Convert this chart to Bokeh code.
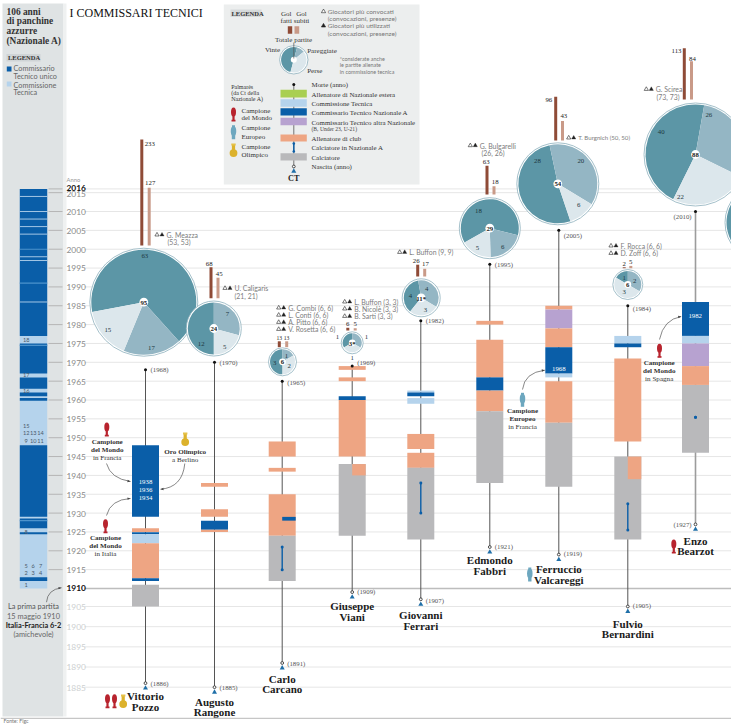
import numpy as np
from bokeh.plotting import figure
from bokeh.core.properties import value
from bokeh.embed import file_html
from bokeh.resources import INLINE

# ---------- data ----------
names = [["Vittorio", "Pozzo"], ["Augusto", "Rangone"], ["Carlo", "Carcano"], ["Giuseppe", "Viani"],
         ["Giovanni", "Ferrari"], ["Edmondo", "Fabbri"], ["Ferruccio", "Valcareggi"], ["Fulvio", "Bernardini"],
         ["Enzo", "Bearzot"]]
birth = [1886, 1885, 1891, 1909, 1907, 1921, 1919, 1905, 1927]
death_pos = [1968, 1970, 1965, 1969, 1981, 1996, 2005, 1985, 2010]
death_lab = [1968, 1970, 1965, 1969, 1982, 1995, 2005, 1984, 2010]
spells = [
    [(1929, 1948, "ct"), (1925, 1926, "club"), (1924.4, 1924.9, "ct"), (1922, 1924.4, "comm"), (1912.7, 1922, "club"),
     (1912, 1912.7, "ct"), (1905, 1911, "player")],
    [(1937, 1938, "club"), (1929, 1931, "club"), (1925.6, 1928, "ct"), (1925, 1925.6, "club")],
    [(1945, 1949, "club"), (1941, 1942, "club"), (1924, 1935, "club"), (1912, 1924, "player")],
    [(1968, 1969, "club"), (1965, 1966, "club"), (1960, 1961, "ct"), (1945, 1960, "club"), (1924, 1943, "player")],
    [(1962, 1962.5, "comm"), (1961, 1962, "ct"), (1959, 1960.5, "comm"), (1947, 1951, "club"), (1942, 1946, "club"),
     (1923, 1942, "player")],
    [(1980, 1981, "club"), (1966, 1976, "club"), (1962.5, 1966, "ct"), (1957, 1962.5, "club"), (1938, 1957, "player")],
    [(1984, 1985, "club"), (1979, 1984, "altra"), (1974, 1979, "club"), (1967, 1974, "ct"), (1966, 1967, "comm"),
     (1954, 1965, "club"), (1937, 1954, "player")],
    [(1975, 1977, "comm"), (1974, 1975, "ct"), (1949, 1971, "club"), (1923, 1945, "player")],
    [(1977, 1986, "ct"), (1975, 1977, "comm"), (1969, 1975, "altra"), (1964, 1969, "club"), (1946, 1964, "player")],
]
half_spells = [(2, 1928, 1929, "ct"), (3, 1940, 1943, "club"), (7, 1939, 1945, "club")]
caps = [(2, 1915, 1921), (4, 1930, 1938), (7, 1925.5, 1932.5), (8, 1955.4, 1955.4)]
gol_fatti = [233, 68, 13, 6, 26, 63, 96, 2, 113]
gol_subiti = [127, 45, 13, 5, 17, 18, 43, 5, 84]
vinte = [63, 12, 3, 1, 4, 18, 28, 1, 40]
pareggiate = [17, 7, 1, 1, 4, 6, 20, 2, 26]
perse = [15, 5, 2, 1, 3, 5, 6, 3, 22]
totali = ["95", "24", "6", "3*", "11*", "29", "54", "6", "88"]
column_blue = [(1977, 2016.6), (1967, 1975), (1963, 1966), (1961, 1962), (1959.8, 1960.5), (1929, 1948), (1925.9, 1928.6),
               (1924.4, 1924.9), (1912, 1913)]
column_changes = [2014, 2010, 2008, 2006, 2004, 1998, 1997, 1986]
column_changes_mid = [2000, 1991, 1974.5, 1928]
years_tick = list(range(1885, 2016, 5))

COL = {"ct": "#0a5ea8", "comm": "#b5d3ec", "altra": "#b7a2d0", "club": "#eea583", "player": "#b9b9bb", "estera": "#a9cf52"}
DARK, MID, LIGHT = "#5c96a6", "#94b6c4", "#dce7ec"
SERIF, SANS = "Liberation Serif", "Lato"
RED, TEAL, YEL = "#b8242e", "#6da7bf", "#dcb22c"

# ---------- positions of the page ----------
cx = [145, 214, 281.7, 351.7, 420.3, 489.3, 558.3, 627.3, 695]
bx_a = [141.3, 210.5, 278.8, 347.3, 417.2, 486.5, 555.2, 623.7, 683.8]
bx_b = [148.7, 217.5, 286.2, 354.7, 424.2, 493.5, 562, 630.3, 691]
b_bot = [245, 297.7, 346.7, 330, 276, 194, 140, 267.7, 99]
pie_x = [143.3, 213.3, 282, 351.7, 420.7, 489.3, 557.3, 627.3, 695]
pie_y = [301.7, 328, 361.3, 342.3, 297.3, 227.7, 183.3, 284, 154]
pie_r = [52.5, 26, 12.5, 9.5, 17.5, 29, 39.5, 13.5, 50]
pie_end = [-48, 90, 90, 90, 100, -14, 102, 90, 80]

p = figure(width=731, height=724, x_range=(0, 731), y_range=(0, 724), output_backend="svg",
           toolbar_location=None, min_border=0, outline_line_color=None, background_fill_color="white")
p.axis.visible = False
p.grid.visible = False


def py(v):
    return 724 - v


def Y(year):
    return py(float(np.interp(year, [1885, 1905, 1910, 2016], [686.7, 606, 588, 188.4])))


def T(x, y, s, size=7, font=SANS, style="normal", color="#444444", align="left"):
    p.text([x], [py(y)], text=[s], text_font=value(font), text_font_size=f"{size}px", text_font_style=style,
           text_color=color, text_align=align, text_baseline="middle")


def R(x0, x1, y0, y1, color):
    p.quad(left=[x0], right=[x1], bottom=[min(y0, y1)], top=[max(y0, y1)], fill_color=color, line_color=None)


def RP(x0, x1, y0, y1, color):
    R(x0, x1, py(y0), py(y1), color)


def cup(x, y, kind, k=1.0):
    col = {"w": RED, "e": TEAL, "o": YEL}[kind]
    yy = py(y)
    if kind == "w":
        p.ellipse([x], [yy + 2.5 * k], width=5 * k, height=9 * k, fill_color=col, line_color=None)
        R(x - 1.1 * k, x + 1.1 * k, yy - 6 * k, yy + 1 * k, col)
        R(x - 2 * k, x + 2 * k, yy - 7 * k, yy - 5.3 * k, col)
    elif kind == "e":
        p.ellipse([x], [yy + 1 * k], width=5.5 * k, height=10 * k, fill_color=col, line_color=None)
        R(x - 1.5 * k, x + 1.5 * k, yy + 5 * k, yy + 7 * k, col)
        R(x - 1.7 * k, x + 1.7 * k, yy - 7 * k, yy - 3 * k, col)
    else:
        p.circle([x], [yy - 2.6 * k], radius=3.9 * k, fill_color=col, line_color=None)
        R(x - 1.6 * k, x + 1.6 * k, yy - 1 * k, yy + 6 * k, col)
        R(x - 2.2 * k, x + 2.2 * k, yy + 5 * k, yy + 7 * k, "#e6c24a")


def curve(x0, y0, x1, y1, cxp, cyp):
    p.quadratic([x0], [py(y0)], [x1], [py(y1)], [cxp], [py(cyp)], line_color="#555555", line_width=0.7)
    d = np.array([x1 - cxp, py(y1) - py(cyp)], dtype=float)
    d /= np.hypot(*d)
    n = np.array([-d[1], d[0]])
    tip = np.array([x1, py(y1)])
    a = tip - d * 3 + n * 1.2
    b = tip - d * 3 - n * 1.2
    p.patch([tip[0], a[0], b[0]], [tip[1], a[1], b[1]], fill_color="#444444", line_color=None)


def pie(x, y, r, vals, end_deg, ring=True):
    a = np.radians(end_deg)
    tot = sum(vals)
    if ring:
        p.circle([x], [py(y)], radius=r + 1.5, fill_color="white", line_color="#8db0bd", line_width=0.8)
    a0 = a
    a1 = a + 2 * np.pi * vals[0] / tot
    p.wedge([x], [py(y)], radius=r, start_angle=a0, end_angle=a1, fill_color=DARK, line_color=None)
    s = a
    for v, c in zip(vals[1:], [MID, LIGHT]):
        e = s - 2 * np.pi * v / tot
        p.wedge([x], [py(y)], radius=r, start_angle=e, end_angle=s, fill_color=c, line_color=None)
        s = e


def tris(x, y):
    p.scatter([x], [py(y)], marker="triangle", size=4.2, fill_color="white", line_color="#222222", line_width=0.6)
    p.scatter([x + 5], [py(y)], marker="triangle", size=4.2, fill_color="#222222", line_color="#222222", line_width=0.3)


# ---------- grid ----------
xs0, xs1, ys = [], [], []
for yr in years_tick:
    if yr != 1910:
        xs0.append(84); xs1.append(731); ys.append(Y(yr))
xs0.append(84); xs1.append(731); ys.append(Y(2016))
p.segment(xs0, ys, xs1, ys, line_color="#e6e6e6", line_width=1)

# ---------- left panel ----------
RP(2, 63, 3, 716, "#dfe3e4")
RP(63, 66, 3, 716, "#eff1f1")
p.segment([84], [Y(1910)], [731], [Y(1910)], line_color="#bdbdbd", line_width=1.7)
for i, s in enumerate(["106 anni", "di panchine", "azzurre", "(Nazionale A)"]):
    T(6, 11 + i * 9.7, s, 9.4, SERIF, "bold", "#333333")
RP(6, 40, 53.5, 61, "#cfd4d6")
T(7.5, 57.3, "LEGENDA", 6.5, SERIF, "bold", "#333333")
RP(6.3, 11, 66, 71, COL["ct"])
RP(6.3, 11, 81, 86, COL["comm"])
T(13, 68, "Commissario", 7.3, color="#666666")
T(13, 75.5, "Tecnico unico", 7.3, color="#666666")
T(13, 84.5, "Commissione", 7.3, color="#666666")
T(13, 91.5, "Tecnica", 7.3, color="#666666")

# the national-team column
R(19.3, 46.7, Y(1910), Y(2016.6), COL["comm"])
for a, b in column_blue:
    R(19.3, 46.7, Y(a), Y(b), COL["ct"])
R(19.3, 46.7, Y(1925), Y(1925.9), COL["comm"])
for c in column_changes:
    p.segment([19.3], [Y(c)], [46.7], [Y(c)], line_color=COL["comm"], line_width=0.9)
for c in column_changes_mid:
    p.segment([19.3], [Y(c)], [46.7], [Y(c)], line_color="#4d93cc", line_width=1.1)
for s, x, y in [("18", 25.7, 339.3), ("17", 25.7, 374), ("16", 25.7, 390.7), ("15", 25.7, 425), ("12", 25.7, 432.7),
                ("13", 32.7, 432.7), ("14", 40, 432.7), ("9", 25.7, 440), ("10", 32.7, 440), ("11", 40, 440),
                ("8", 25.7, 531), ("5", 25.7, 565), ("6", 32.7, 565), ("7", 40, 565), ("2", 25.7, 572.7),
                ("3", 32.7, 572.7), ("4", 40, 572.7), ("1", 25.7, 584)]:
    T(x, y, s, 5.6, color="#4a5a6a", align="center")

# ticks + year labels
for yr in years_tick:
    if yr >= 1915:
        p.segment([48], [Y(yr)], [62], [Y(yr)], line_color="#b5b5b5", line_width=1)
    col = "#8a8a8a" if yr > 1910 else "#cdd0d1"
    if yr == 1910:
        continue
    T(66, py(Y(yr)) + (1.5 if yr == 2015 else 0.4), str(yr), 8.4, color=col)
p.segment([48], [Y(2016)], [62], [Y(2016)], line_color="#b5b5b5", line_width=1)
T(66, 178.5, "Anno", 5.8, color="#999999")
T(66, 187.5, "2016", 8.4, style="bold", color="#111111")
T(66, 587.8, "1910", 8.4, style="bold", color="#111111")
curve(46, 601.7, 61, 587.3, 47, 589)
T(33, 606, "La prima partita", 7.4, color="#555555", align="center")
T(33, 615.7, "15 maggio 1910", 7.4, color="#666666", align="center")
T(33, 625, "Italia-Francia 6-2", 7.4, style="bold", color="#222222", align="center")
T(33, 634, "(amichevole)", 7.4, color="#666666", align="center")

# title
T(69, 12.3, "I COMMISSARI TECNICI", 12, SERIF, "normal", "#111111")

# ---------- coaches ----------
for i in range(9):
    lc, lw = ("#555555", 1) if i != 8 else ("#9c9c9c", 1.6)
    p.segment([cx[i]], [Y(birth[i])], [cx[i]], [Y(death_pos[i])], line_color=lc, line_width=lw)
    for a, b, k in spells[i]:
        R(cx[i] - 13.5, cx[i] + 13.5, Y(a), Y(b), COL[k])
for i, a, b, k in half_spells:
    R(cx[i], cx[i] + 13.5, Y(a), Y(b), COL[k])
for i, a, b in caps:
    p.segment([cx[i]], [Y(a)], [cx[i]], [Y(b)], line_color=COL["ct"], line_width=1.4)
    p.circle([cx[i], cx[i]], [Y(a), Y(b)], radius=1.5, fill_color=COL["ct"], line_color=None)
for i in range(9):
    p.scatter([cx[i]], [Y(death_pos[i])], marker="circle", size=3, fill_color="#111111", line_color=None)
    p.scatter([cx[i]], [Y(birth[i])], marker="circle", size=2.8, fill_color="white", line_color="#222222", line_width=0.8)
    p.scatter([cx[i]], [Y(birth[i]) - 5], marker="triangle", size=5, fill_color="#1f6fa8", line_color=None)

# birth / death labels
for i, (dx, dy) in enumerate([(5, 0), (5, 0), (5, 1), (5, -1), (5, 1), (5, -.5), (5, -1), (5, -1), (-22, 0)]):
    T(cx[i] + dx, py(Y(birth[i])) + dy, f"({birth[i]})", 6.8, SERIF, "normal", "#555555")
for i, (dx, dy) in enumerate([(5, 0), (5, 0), (5, 1), (5, -3.5), (5, 0), (5, 0.5), (5, 5), (5, 3), (-22, 5)]):
    T(cx[i] + dx, py(Y(death_pos[i])) + dy, f"({death_lab[i]})", 6.8, SERIF, "normal", "#555555")

# pies and goals
GK = 0.4545
for i in range(9):
    RP(bx_a[i] - 1.5, bx_a[i] + 1.5, b_bot[i] - gol_fatti[i] * GK, b_bot[i], "#8f4b37")
    RP(bx_b[i] - 1.5, bx_b[i] + 1.5, b_bot[i] - gol_subiti[i] * GK, b_bot[i], "#c99a88")
    pie(pie_x[i], pie_y[i], pie_r[i], [vinte[i], pareggiate[i], perse[i]], pie_end[i])
    rc = 4.4 if pie_r[i] > 15 else 3.4
    p.circle([pie_x[i]], [py(pie_y[i])], radius=rc, fill_color="white", line_color=None)
    T(pie_x[i], pie_y[i] + 0.3, totali[i], 6.8, SERIF, "bold", "#222222", "center")
# the next coach's pie, cut off by the page edge
pie(764, 222, 38, [30, 14, 8], 110)

goal_labels = [(149.3, 143.7), (149.7, 182.7), (208.7, 263.3), (218.7, 273.7), (278.7, 337.7), (286, 337.7), (347.3, 323.3),
               (354.7, 323.3), (415.7, 260.7), (425, 263.3), (485.7, 161.3), (494.7, 181.7), (548.3, 99.7), (563.3, 115.7),
               (623.7, 263.3), (630.3, 261.3), (676, 50), (692, 58)]
for i in range(9):
    for j, v in enumerate([gol_fatti[i], gol_subiti[i]]):
        x, y = goal_labels[i * 2 + j]
        T(x, y, str(v), 5.6 if i == 2 else 6.8, SERIF, "normal", "#222222", "center")

slice_labels = [("63", 144.3, 255.7), ("15", 107.3, 329.7), ("17", 151, 347.7), ("12", 200.7, 343.3), ("7", 227, 313.3), ("5", 224.3, 346.3),
                ("3", 274.3, 362.7), ("1", 286, 355), ("2", 288.7, 365.7), ("4", 410, 295), ("4", 426.3, 288.3), ("3", 425, 309.3),
                ("18", 478, 210.3), ("6", 502.3, 246), ("5", 477, 247.7), ("28", 537, 160), ("20", 580.3, 160), ("6", 578.3, 204.7),
                ("1", 623.7, 277.3), ("2", 634.3, 280.7), ("3", 623.7, 291.7), ("40", 660.7, 131), ("26", 708.3, 114.3), ("22", 680, 196.7),
                ("1", 337, 336.7), ("1", 366, 336.7), ("1", 351.7, 357)]
for s, x, y in slice_labels:
    T(x, y, s, 6.8, SERIF, "normal", "#1c3640", "center")

# names
name_pos = [(695, 706), (701, 711.5), (678, 688.7), (605.7, 616.3), (614.7, 625.5), (559.7, 570), (568, 579), (623, 633), (540, 550.7)]
for i in range(9):
    for s, y in zip(names[i], name_pos[i]):
        T(cx[i], y, s, 11, SERIF, "bold", "#1a1a1a", "center")

# top players
players = [(155, 234.3, "G. Meazza", 6.9), (223, 287.7, "U. Caligaris", 6.9), (276.7, 307.3, "G. Combi (6, 6)", 6.9), (276.7, 314.5, "L. Conti (6, 6)", 6.9),
           (276.7, 321.7, "A. Pitto (6, 6)", 6.9), (276.7, 328.7, "V. Rosetta (6, 6)", 6.9), (342.7, 301.3, "L. Buffon (3, 3)", 6.9), (342.7, 308.3, "B. Nicolè (3, 3)", 6.9),
           (342.7, 315.7, "B. Sarti (3, 3)", 6.9), (397.7, 251.7, "L. Buffon (9, 9)", 6.9), (468.3, 145, "G. Bulgarelli", 6.9), (566.7, 137.3, "T. Burgnich (50, 50)", 6.1),
           (609, 245.3, "F. Rocca (6, 6)", 6.9), (609, 252.7, "D. Zoff (6, 6)", 6.9), (644.3, 88.7, "G. Scirea", 6.9)]
for x, y, s, fs in players:
    tris(x + 1.5, y)
    T(x + 11, y, s, fs, color="#7d7d7d")
for x, y, s in [(167, 241.3, "(53, 53)"), (234, 295, "(21, 21)"), (481, 152, "(26, 26)"), (656, 96.3, "(73, 73)")]:
    T(x, y, s, 6.9, color="#7d7d7d")


# palmarès notes
def note(x, y, lines):
    for k, (s, st) in enumerate(lines):
        T(x, y + k * 8, s, 7.1, SERIF, st, "#333333", "center")


cup(106.3, 429, "w"); note(106.7, 441.3, [("Campione", "bold"), ("del Mondo", "bold"), ("in Francia", "normal")])
cup(184.7, 439, "o"); note(184.7, 451, [("Oro Olimpico", "bold"), ("a Berlino", "normal")])
cup(105, 525.7, "w"); note(105, 537.3, [("Campione", "bold"), ("del Mondo", "bold"), ("in Italia", "normal")])
cup(522, 399.3, "e"); note(522, 410.7, [("Campione", "bold"), ("Europeo", "bold"), ("in Francia", "normal")])
cup(659, 350.3, "w"); note(658.7, 362, [("Campione", "bold"), ("del Mondo", "bold"), ("in Spagna", "normal")])
cup(107, 700.7, "w"); cup(114, 700.7, "w"); cup(122.7, 701, "o")
cup(529.3, 574, "e"); cup(673.3, 546, "w")
curve(106, 463, 130, 481, 110, 478)
curve(184.3, 463, 160, 488.7, 182, 487)
curve(106, 515, 130, 498, 110, 499)
curve(522, 389, 544.3, 369.7, 524, 372)
curve(659, 339, 680.7, 316, 663, 319)
for s, y in [("1938", 481), ("1936", 489), ("1934", 497)]:
    T(145, y, s, 6.8, SERIF, "normal", "white", "center")
T(558.3, 368.7, "1968", 6.8, SERIF, "normal", "white", "center")
T(694.7, 315.7, "1982", 6.8, SERIF, "normal", "white", "center")

# ---------- legend box ----------
RP(223.3, 419, 4, 184, "#eceeee")
RP(230, 261, 9, 16.5, "#d6dadb")
T(231, 12.7, "LEGENDA", 6.5, SERIF, "bold", "#333333")
for x, a, b in [(285.7, "Gol", "fatti"), (301, "Gol", "subiti")]:
    T(x, 13, a, 7, SERIF, "normal", "#333333", "center")
    T(x, 20.3, b, 7, SERIF, "normal", "#333333", "center")
RP(287.3, 291.7, 25.7, 33.3, "#8f4b37")
RP(294, 298.7, 25.7, 33.3, "#c99a88")
T(293, 39.5, "Totale partite", 7, SERIF, "normal", "#333333", "center")
T(272, 49.7, "Vinte", 7, SERIF, "normal", "#333333", "center")
T(306.7, 50, "Pareggiate", 7, SERIF, "normal", "#333333")
T(306.7, 70.7, "Perse", 7, SERIF, "normal", "#333333")
pie(293.3, 59.3, 12.7, [5, 1, 4], 75)
p.circle([293.3], [py(59.3)], radius=3, fill_color="white", line_color=None)
p.segment([293.3], [py(42)], [293.3], [py(58)], line_color="#555555", line_width=0.7)
for y, s in [(58.7, "*considerate anche"), (64.9, "le partite allenate"), (71.3, "in commissione tecnica")]:
    T(339.3, y, s, 5.4, color="#777777")
for x, y, f in [(323, 11, "white"), (323, 25.3, "#222222")]:
    p.scatter([x], [py(y)], marker="triangle", size=4.2, fill_color=f, line_color="#222222", line_width=0.6)
for y, s in [(11, "Giocatori più convocati"), (18, "(convocazioni, presenze)"), (25.3, "Giocatori più utilizzati"), (32.7, "(convocazioni, presenze)")]:
    T(327.3, y, s, 6.5, color="#777777")
for y, s in [(86.3, "Palmarès"), (92.3, "(da Ct della"), (98.3, "Nazionale A)")]:
    T(230.7, y, s, 6, SERIF, "normal", "#333333")
cup(233, 114, "w"); cup(233, 131.7, "e"); cup(233, 150, "o")
for y, s in [(110, "Campione"), (117.7, "del Mondo"), (127.7, "Campione"), (136, "Europeo"), (146, "Campione"), (154.3, "Olimpico")]:
    T(241, y, s, 7, SERIF, "normal", "#333333")
p.segment([293.3], [py(84)], [293.3], [py(166)], line_color="#555555", line_width=0.8)
for a, b, k in [(89.3, 97, "estera"), (98.7, 106.3, "comm"), (107.7, 115, "ct"), (117.3, 124.7, "altra"), (134, 141, "club"), (152.7, 160, "player")]:
    RP(280, 306.3, a, b, COL[k])
p.segment([293.3], [py(143)], [293.3], [py(151)], line_color=COL["ct"], line_width=1.4)
p.circle([293.3, 293.3], [py(143), py(151)], radius=1.3, fill_color=COL["ct"], line_color=None)
p.scatter([293.3], [py(84)], marker="circle", size=3, fill_color="#111111", line_color=None)
p.scatter([293.3], [py(166)], marker="circle", size=2.8, fill_color="white", line_color="#222222", line_width=0.8)
p.scatter([293.3], [py(170.7)], marker="triangle", size=5, fill_color="#1f6fa8", line_color=None)
T(293.3, 177.5, "CT", 8.2, SERIF, "bold", "#222222", "center")
for y, s in [(84.3, "Morte (anno)"), (93.7, "Allenatore di Nazionale estera"), (103, "Commissione Tecnica"), (112.3, "Commissario Tecnico Nazionale A"),
             (121.7, "Commissario Tecnico altra Nazionale"), (138, "Allenatore di club"), (147.3, "Calciatore in Nazionale A"), (156.7, "Calciatore"), (165.7, "Nascita (anno)")]:
    T(311, y, s, 6.9, SERIF, "normal", "#333333")
T(311, 128.3, "(B, Under 23, U-21)", 5.6, SERIF, "normal", "#444444")

# bottom rule and source
RP(0, 731, 717.2, 718.4, "#c6c6c6")
T(3, 720.8, "Fonte: Figc", 5.2, color="#777777")

open("out.html", "w").write(file_html(p, INLINE))
